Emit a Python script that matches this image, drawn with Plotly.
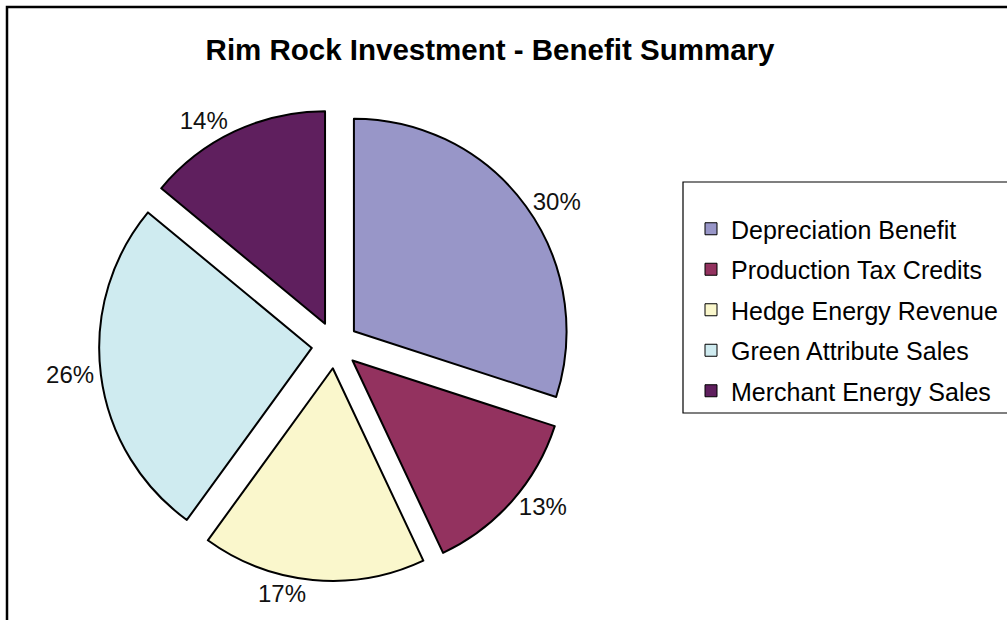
import plotly.graph_objects as go

categories = ["Depreciation Benefit", "Production Tax Credits", "Hedge Energy Revenue",
              "Green Attribute Sales", "Merchant Energy Sales"]
shares = [30, 13, 17, 26, 14]
colors = ["#9896C8", "#93325F", "#FAF7CC", "#CFEBF0", "#5F1F5E"]

W, H = 1007, 620
FONT = "Liberation Sans, Arial, sans-serif"

fig = go.Figure()
fig.add_trace(go.Pie(
    labels=categories,
    values=shares,
    sort=False,
    direction="clockwise",
    rotation=0,
    pull=[0.11] * len(shares),
    marker=dict(colors=colors, line=dict(color="#000000", width=2)),
    texttemplate="%{percent:.0%}",
    textposition="outside",
    outsidetextfont=dict(family=FONT, size=24, color="#111111"),
    domain=dict(x=[99 / W, 571 / W], y=[1 - 582 / H, 1 - 108 / H]),
    hoverinfo="label+percent",
    showlegend=False,
))

# legend entries (one per category, so that the entries can be spaced like the original)
for name, col in zip(categories, colors):
    fig.add_trace(go.Scatter(
        x=[None], y=[None], mode="markers", name=name, legendgroup=name,
        marker=dict(symbol="square", size=12, color=col, line=dict(color="#000000", width=1)),
        hoverinfo="skip", showlegend=True,
    ))

fig.update_layout(
    width=W, height=H,
    margin=dict(l=0, r=0, t=0, b=0, autoexpand=False),
    paper_bgcolor="white",
    plot_bgcolor="white",
    xaxis=dict(visible=False),
    yaxis=dict(visible=False),
    showlegend=True,
    title=dict(text="Rim Rock Investment - Benefit Summary",
               x=490 / W, xanchor="center", y=1 - 50 / H, yanchor="middle",
               font=dict(family=FONT, size=29.5, color="#000000", weight="bold")),
    legend=dict(x=691 / W, y=1 - 206 / H, xanchor="left", yanchor="top",
                font=dict(family=FONT, size=25, color="#000000"),
                traceorder="grouped", tracegroupgap=5,
                bgcolor="rgba(0,0,0,0)", borderwidth=0),
    shapes=[
        # outer chart frame (left/top visible, continues past the page)
        dict(type="rect", xref="paper", yref="paper",
             x0=7 / W, x1=1.05, y0=-0.05, y1=1 - 7 / H,
             line=dict(color="#000000", width=2.5), fillcolor="rgba(0,0,0,0)"),
        # legend frame
        dict(type="rect", xref="paper", yref="paper",
             x0=683 / W, x1=1.05, y0=1 - 413 / H, y1=1 - 182 / H,
             line=dict(color="#000000", width=1.2), fillcolor="rgba(0,0,0,0)"),
    ],
)

fig.write_html("out.html")
